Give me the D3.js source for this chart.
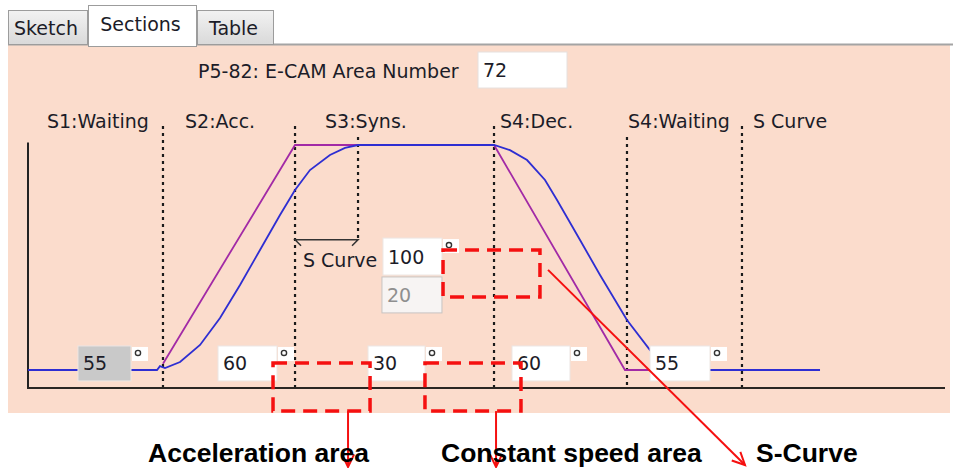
<!DOCTYPE html>
<html><head><meta charset="utf-8">
<script src="https://cdn.jsdelivr.net/npm/d3@7"></script>
<style>html,body{margin:0;padding:0;background:#fff;overflow:hidden}</style>
</head><body>
<svg id="c" width="953" height="468"></svg>
<script>
// ---------- data ----------
const tabs = ["Sketch", "Sections", "Table"];
const activeTab = "Sections";
const areaLabel = "P5-82: E-CAM Area Number";
const areaNumber = "72";
const sectionLabels = ["S1:Waiting", "S2:Acc.", "S3:Syns.", "S4:Dec.", "S4:Waiting", "S Curve"];
const sectionBounds = [14.72, 29.12, 50.82, 65.32, 77.86];   // section boundaries (x units)
const sCurveEnd = 35.99;
const sectionAngles = ["55", "60", "30", "60", "55"];
const sCurveValues = ["100", "20"];
const sCurveLabel = "S Curve";
// linear cam profile (magenta)
const magentaX = [14.72, 29.12, 50.82, 65.1, 72];
const magentaY = [10, 100, 100, 7.4, 7.4];
// S-curve cam profile (blue)
const blueX = [0, 14.07, 14.39, 14.94, 16.58, 18.76, 20.94, 23.12, 25.30, 27.48, 29.12, 30.75, 32.93, 34.57, 35.99,
               50.82, 52.56, 54.42, 56.38, 57.69, 60.20, 62.38, 65.32, 67.83, 69.47, 71.11, 86.37];
const blueY = [7.4, 7.4, 9.0, 8.2, 10.7, 17.7, 28.8, 42.4, 56.8, 71.2, 81.5, 89.7, 95.9, 98.8, 100,
               100, 97.9, 93.8, 85.6, 77.4, 60.9, 46.5, 28.0, 15.6, 9.9, 7.4, 7.4];
const annotations = ["Acceleration area", "Constant speed area", "S-Curve"];

// ---------- layout ----------
const svg = d3.select("#c");
const x = d3.scaleLinear().domain([0, 100]).range([28, 945]);
const y = d3.scaleLinear().domain([0, 100]).range([388, 145]);
const UI = "'DejaVu Sans', Verdana, sans-serif";
const textCol = "#1c1c28";

// tab bar
const tabLayout = [{x0: 8, x1: 88, top: 10}, {x0: 88, x1: 197, top: 5}, {x0: 197, x1: 274, top: 10}];
const defs = svg.append("defs");
const g1 = defs.append("linearGradient").attr("id", "tabg").attr("x1", 0).attr("y1", 0).attr("x2", 0).attr("y2", 1);
g1.append("stop").attr("offset", "0%").attr("stop-color", "#f2f2f2");
g1.append("stop").attr("offset", "100%").attr("stop-color", "#d9d9d9");

// panel
svg.append("rect").attr("x", 8).attr("y", 45).attr("width", 942).attr("height", 368).attr("fill", "#fbdccc");
svg.append("line").attr("x1", 8).attr("x2", 953).attr("y1", 44.5).attr("y2", 44.5).attr("stroke", "#a4a4a4").attr("stroke-width", 2);

tabs.forEach((t, i) => {
  const L = tabLayout[i];
  const act = t === activeTab;
  svg.append("rect").attr("x", L.x0 + 0.5).attr("y", L.top + 0.5).attr("width", L.x1 - L.x0 - 1)
    .attr("height", 45 - L.top + (act ? 1 : -1)).attr("fill", act ? "#ffffff" : "url(#tabg)")
    .attr("stroke", "#9c9c9c").attr("stroke-width", 1);
  svg.append("text").attr("x", (L.x0 + L.x1) / 2 - 2).attr("y", act ? 31 : 35).attr("text-anchor", "middle")
    .attr("font-family", UI).attr("font-size", 19).attr("fill", textCol).text(t);
});
svg.append("rect").attr("x", 89).attr("y", 42).attr("width", 107).attr("height", 4).attr("fill", "#fff");

// header: area number
svg.append("text").attr("x", 198).attr("y", 78).attr("font-family", UI).attr("font-size", 19).attr("fill", textCol).text(areaLabel);
svg.append("rect").attr("x", 478).attr("y", 52).attr("width", 89).attr("height", 36).attr("fill", "#fff").attr("stroke", "#e6e0de");
svg.append("text").attr("x", 483).attr("y", 77).attr("font-family", UI).attr("font-size", 19).attr("fill", textCol).text(areaNumber);

// section labels
const labelX = [2.07, 17.12, 32.39, 51.47, 65.43, 79.06];
svg.selectAll("text.sec").data(sectionLabels).enter().append("text").attr("class", "sec")
  .attr("x", (d, i) => x(labelX[i])).attr("y", y(107)).attr("font-family", UI).attr("font-size", 19)
  .attr("fill", textCol).text(d => d);

// dotted boundaries
const dotTop = [107.8, 107.8, 107.8, 103.3, 107.8];
svg.selectAll("line.bd").data(sectionBounds).enter().append("line").attr("class", "bd")
  .attr("x1", d => x(d)).attr("x2", d => x(d)).attr("y1", (d, i) => y(dotTop[i])).attr("y2", y(0))
  .attr("stroke", "#1a1a1a").attr("stroke-width", 2.2).attr("stroke-dasharray", "3,4");
svg.append("line").attr("x1", x(sCurveEnd)).attr("x2", x(sCurveEnd)).attr("y1", y(103.3)).attr("y2", y(61))
  .attr("stroke", "#1a1a1a").attr("stroke-width", 2.2).attr("stroke-dasharray", "3,4");

// axes
svg.append("line").attr("x1", x(0)).attr("x2", x(0)).attr("y1", y(101)).attr("y2", y(0)).attr("stroke", "#222").attr("stroke-width", 2);
svg.append("line").attr("x1", x(0) - 1).attr("x2", x(100)).attr("y1", y(0)).attr("y2", y(0)).attr("stroke", "#2a2622").attr("stroke-width", 2.2);

// curves
const lineGen = d3.line().x(d => x(d[0])).y(d => y(d[1]));
svg.append("path").attr("d", lineGen(magentaX.map((v, i) => [v, magentaY[i]])))
  .attr("fill", "none").attr("stroke", "#a22aa6").attr("stroke-width", 1.8);
svg.append("path").attr("d", lineGen(blueX.map((v, i) => [v, blueY[i]])))
  .attr("fill", "none").attr("stroke", "#2e2ed2").attr("stroke-width", 1.8);

// S-curve bracket
const bx0 = x(sectionBounds[1]), bx1 = x(sCurveEnd), by = y(61);
svg.append("path").attr("d", `M${bx0 + 6},${by + 6}L${bx0},${by}L${bx1},${by}L${bx1 - 6},${by + 6}`)
  .attr("fill", "none").attr("stroke", "#333").attr("stroke-width", 1.5);
svg.append("text").attr("x", 303).attr("y", 267).attr("font-family", UI).attr("font-size", 19).attr("fill", textCol).text(sCurveLabel);

// input boxes
function box(xu, topU, botU, wPx, val, style) {
  const bxp = x(xu), t = y(topU), b = y(botU);
  const fill = style === "gray" ? "#c9c9c9" : (style === "dis" ? "#f7f4f3" : "#ffffff");
  svg.append("rect").attr("x", bxp).attr("y", t).attr("width", wPx).attr("height", b - t)
    .attr("fill", fill).attr("stroke", style === "dis" ? "#c8c4c2" : "#ece6e3").attr("stroke-width", 1);
  svg.append("text").attr("x", bxp + 5).attr("y", t + (b - t) / 2 + 7).attr("font-family", UI).attr("font-size", 19)
    .attr("fill", style === "dis" ? "#8f8f8f" : textCol).text(val);
  if (style !== "dis") {
    svg.append("rect").attr("x", bxp + wPx + 1).attr("y", t + 1).attr("width", 16).attr("height", 14).attr("fill", "#fff");
    svg.append("circle").attr("cx", bxp + wPx + 7).attr("cy", t + 7).attr("r", 2.6)
      .attr("fill", "#fff").attr("stroke", "#333").attr("stroke-width", 1.4);
  }
}
const boxLeft = [5.45, 20.72, 37.08, 52.78, 67.83];
const boxW = [53, 59, 57, 58, 60];
sectionAngles.forEach((v, i) => box(boxLeft[i], 17.3, 2.9, boxW[i], v, i === 0 ? "gray" : "white"));
box(38.71, 61.7, 46.5, 59, sCurveValues[0], "white");
box(38.6, 45.7, 30.9, 60, sCurveValues[1], "dis");

// red annotations
const red = "#f51010";
const rects = [[26.72, 37.30, 10.3, -9.5], [43.29, 53.76, 10.3, -9.5], [45.26, 55.83, 56.8, 37.4]];
rects.forEach(r => {
  svg.append("rect").attr("x", x(r[0])).attr("y", y(r[2])).attr("width", x(r[1]) - x(r[0])).attr("height", y(r[3]) - y(r[2]))
    .attr("fill", "none").attr("stroke", red).attr("stroke-width", 3.5).attr("stroke-dasharray", "14,8");
});
const arrows = [[34.90, -9.5, 34.90, -32.5], [51.04, -9.5, 51.04, -32.5], [56.71, 48.6, 78.19, -31.7]];
arrows.forEach(a => {
  const x1 = x(a[0]), y1 = y(a[1]), x2 = x(a[2]), y2 = y(a[3]);
  svg.append("line").attr("x1", x1).attr("y1", y1).attr("x2", x2).attr("y2", y2).attr("stroke", red).attr("stroke-width", 2);
  const ang = Math.atan2(y2 - y1, x2 - x1), L = 14, s = 0.45;
  svg.append("path").attr("d", `M${x2 - L * Math.cos(ang - s)},${y2 - L * Math.sin(ang - s)}L${x2},${y2}L${x2 - L * Math.cos(ang + s)},${y2 - L * Math.sin(ang + s)}`)
    .attr("fill", "none").attr("stroke", red).attr("stroke-width", 2);
});
const annX = [13.09, 45.04, 79.39];
svg.selectAll("text.ann").data(annotations).enter().append("text").attr("class", "ann")
  .attr("x", (d, i) => x(annX[i])).attr("y", y(-30.5)).attr("font-family", "'Liberation Sans', Arial, sans-serif")
  .attr("font-weight", "bold").attr("font-size", 26.5).attr("fill", "#000").text(d => d);
</script>
</body></html>
